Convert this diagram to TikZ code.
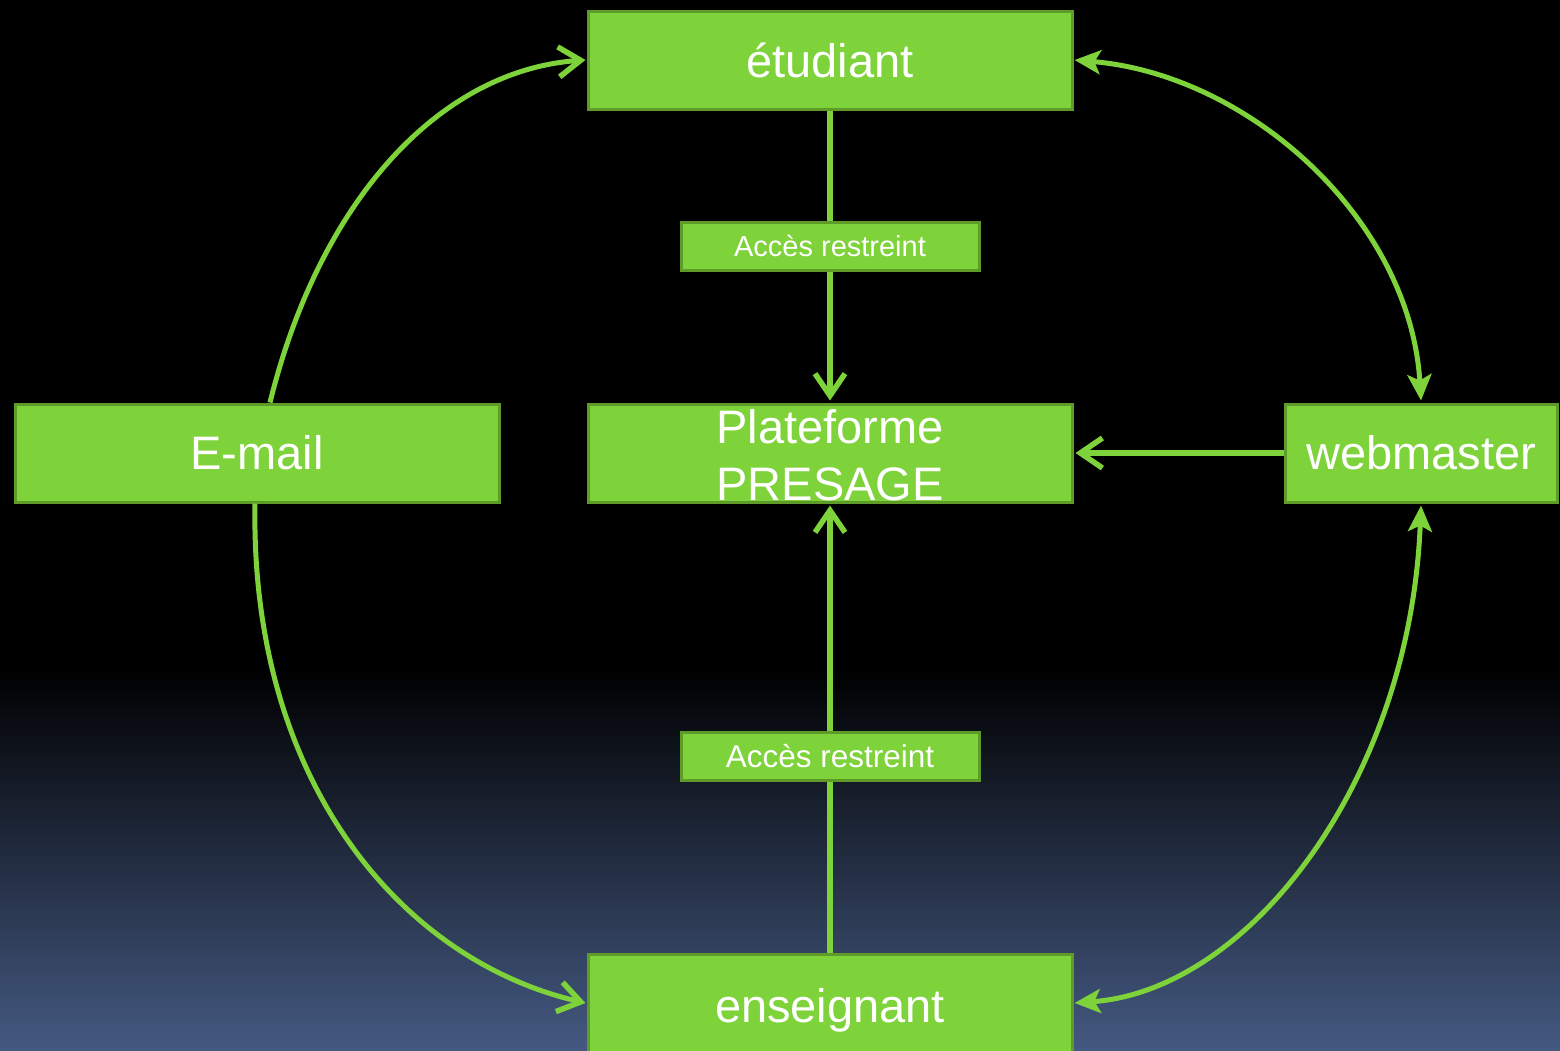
\documentclass[tikz,border=0pt]{standalone}
\usepackage{fontspec}
\setmainfont{Liberation Sans}
\usetikzlibrary{arrows.meta}
\definecolor{gfill}{RGB}{126,210,58}
\definecolor{gborder}{RGB}{95,155,40}
\definecolor{bgbottom}{RGB}{68,89,129}
\tikzset{
  box/.style={draw=gborder, line width=3pt, fill=gfill, minimum width=484pt, minimum height=98pt, inner sep=0pt},
  smallbox/.style={draw=gborder, line width=3pt, fill=gfill, minimum width=298pt, minimum height=48pt, inner sep=0pt},
  bigtxt/.style={text=white, font=\fontsize{47}{57}\selectfont},
  conn/.style={draw=gfill, line width=5.5pt},
  curve/.style={draw=gfill, line width=5pt},
  open/.style={-{Straight Barb[length=22pt,width=30pt,line width=5.5pt]}},
  fill2/.style={{Stealth[length=26pt,width=24pt,inset=6pt]}-{Stealth[length=26pt,width=24pt,inset=6pt]}},
}
\begin{document}
\begin{tikzpicture}[x=1pt,y=-1pt]
\useasboundingbox (0,0) rectangle (1560,1050);
\fill[black] (0,0) rectangle (1560,670);
\shade[top color=black, bottom color=bgbottom] (0,669) rectangle (1560,1050);

\node[box, bigtxt] (etud) at (830,60) {étudiant};
\node[box] (plat) at (830,453) {};
\node[bigtxt, align=center, inner sep=0pt] (platt) at (830,455) {Plateforme\\PRESAGE};
\node[box, bigtxt] (email) at (257,453) {E-mail};
\node[box, bigtxt, minimum width=272pt] (web) at (1421,453) {webmaster};
\node[box, bigtxt, text height=48pt, text depth=10pt] (ens) at (830,1003) {enseignant};
\node[smallbox, text=white, font=\fontsize{29}{34}\selectfont] (acc1) at (830,246) {Accès restreint};
\node[smallbox, text=white, font=\fontsize{31.5}{36}\selectfont] (acc2) at (830,756) {Accès restreint};

\draw[conn] (etud.south) -- (acc1.north);
\draw[conn, open] (acc1.south) -- ([yshift=2pt]plat.north);
\draw[conn] (ens.north) -- (acc2.south);
\draw[conn, open] (acc2.north) -- ([yshift=-2pt]plat.south);
\draw[conn, open] (web.west) -- ([xshift=2pt]plat.east);

\draw[curve, open] ([xshift=13pt]email.north) .. controls (320,200) and (440,70) .. ([xshift=-1pt]etud.west);
\draw[curve, open] ([xshift=-2pt]email.south) .. controls (250,780) and (400,960) .. ([xshift=-1pt]ens.west);
\draw[curve, fill2] ([xshift=1pt]etud.east) .. controls (1250,75) and (1410,220) .. ([yshift=2pt]web.north);
\draw[curve, fill2] ([yshift=-2pt]web.south) .. controls (1410,780) and (1250,990) .. ([xshift=1pt]ens.east);
\end{tikzpicture}
\end{document}
